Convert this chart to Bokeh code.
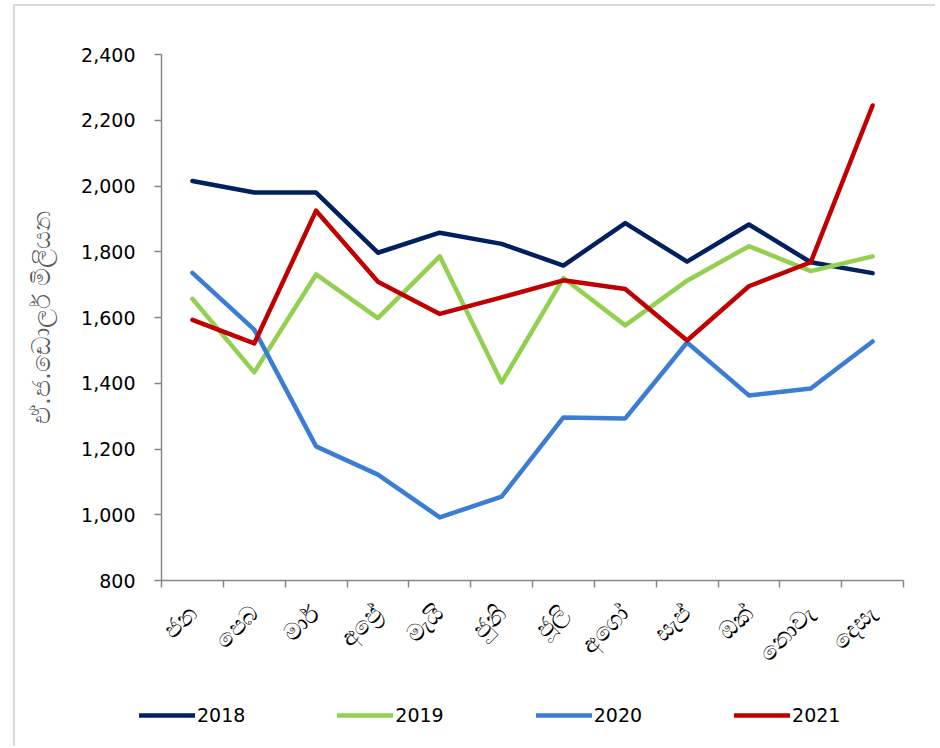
import math
from bokeh.plotting import figure
from bokeh.layouts import column
from bokeh.models import FixedTicker, Legend, LegendItem, NumeralTickFormatter
from bokeh.embed import file_html
from bokeh.resources import INLINE

months = ["ජන", "පෙබ", "මාර්", "අප්‍රේ", "මැයි", "ජුනි", "ජූලි", "අගෝ", "සැප්", "ඔක්", "නොවැ", "දෙසැ"]
y2018 = [2015, 1980, 1980, 1797, 1858, 1824, 1758, 1887, 1770, 1883, 1768, 1735]
y2019 = [1657, 1433, 1731, 1598, 1786, 1402, 1720, 1576, 1712, 1817, 1741, 1786]
y2020 = [1736, 1563, 1208, 1122, 992, 1055, 1296, 1293, 1524, 1363, 1384, 1527]
y2021 = [1593, 1521, 1925, 1709, 1611, 1661, 1713, 1687, 1530, 1695, 1768, 2245]
years = ["2018", "2019", "2020", "2021"]
colors = ["#002060", "#92D050", "#3C7DD4", "#C00000"]
y_ticks = [800, 1000, 1200, 1400, 1600, 1800, 2000, 2200, 2400]
y_label = "ඒ.ජ.ඩොලර් මිලියන"

FONT = "DejaVu Sans"
series = [y2018, y2019, y2020, y2021]
xs = [i + 0.5 for i in range(len(months))]

p = figure(width=920, height=680, output_backend="svg", toolbar_location=None,
           x_range=(0, len(months)), y_range=(y_ticks[0], y_ticks[-1]),
           min_border_left=146, min_border_right=32, min_border_top=48, min_border_bottom=106)
p.frame_align = False
p.outline_line_color = None
p.xgrid.grid_line_color = None
p.ygrid.grid_line_color = None

for name, ys, c in zip(years, series, colors):
    p.line(xs, ys, line_color=c, line_width=4.5, line_join="round", line_cap="round")

# x axis
xa = p.xaxis[0]
xa.ticker = FixedTicker(ticks=xs, minor_ticks=list(range(len(months) + 1)))
xa.major_label_overrides = {x: m for x, m in zip(xs, months)}
xa.major_tick_line_color = None
xa.minor_tick_line_color = "#868686"
xa.minor_tick_out = 7
xa.minor_tick_in = 0
xa.minor_tick_line_width = 1.5
xa.axis_line_color = "#868686"
xa.axis_line_width = 1.5
xa.major_label_orientation = math.pi / 4
xa.major_label_text_font = FONT
xa.major_label_text_font_size = "24px"
xa.major_label_text_color = "#000000"
xa.major_label_standoff = 22

# y axis
ya = p.yaxis[0]
ya.ticker = FixedTicker(ticks=y_ticks)
ya.formatter = NumeralTickFormatter(format="0,0")
ya.major_tick_line_color = "#868686"
ya.major_tick_out = 7
ya.major_tick_in = 0
ya.major_tick_line_width = 1.5
ya.minor_tick_line_color = None
ya.axis_line_color = "#868686"
ya.axis_line_width = 1.5
ya.major_label_text_font = FONT
ya.major_label_text_font_size = "19px"
ya.major_label_text_color = "#000000"
ya.major_label_standoff = 19
ya.axis_label = y_label
ya.axis_label_text_font = FONT
ya.axis_label_text_font_size = "25px"
ya.axis_label_text_font_style = "normal"
ya.axis_label_text_color = "#595959"
ya.axis_label_standoff = 22

# legend strip (its own small figure, lines kept out of its view)
lf = figure(width=920, height=60, output_backend="svg", toolbar_location=None,
            x_range=(100, 101), y_range=(0, 1), min_border=0)
lf.frame_align = False
lf.axis.visible = False
lf.grid.visible = False
lf.outline_line_color = None
items = []
for name, ys, c in zip(years, series, colors):
    r = lf.line(xs, ys, line_color=c, line_width=4.5, line_cap="round")
    items.append(LegendItem(label=name, renderers=[r]))
legend = Legend(items=items, orientation="horizontal", location=(124, 20),
                glyph_width=56, glyph_height=20, label_standoff=2, spacing=92,
                padding=0, margin=0, border_line_color=None, background_fill_alpha=0,
                label_text_font=FONT, label_text_font_size="19px", label_text_color="#000000")
lf.add_layout(legend, "center")

layout = column(p, lf, spacing=0,
                styles={"border-left": "2px solid #d9d9d9", "border-top": "2px solid #d9d9d9",
                        "margin-left": "13px", "margin-top": "4px"})

open("out.html", "w").write(file_html(layout, INLINE))
